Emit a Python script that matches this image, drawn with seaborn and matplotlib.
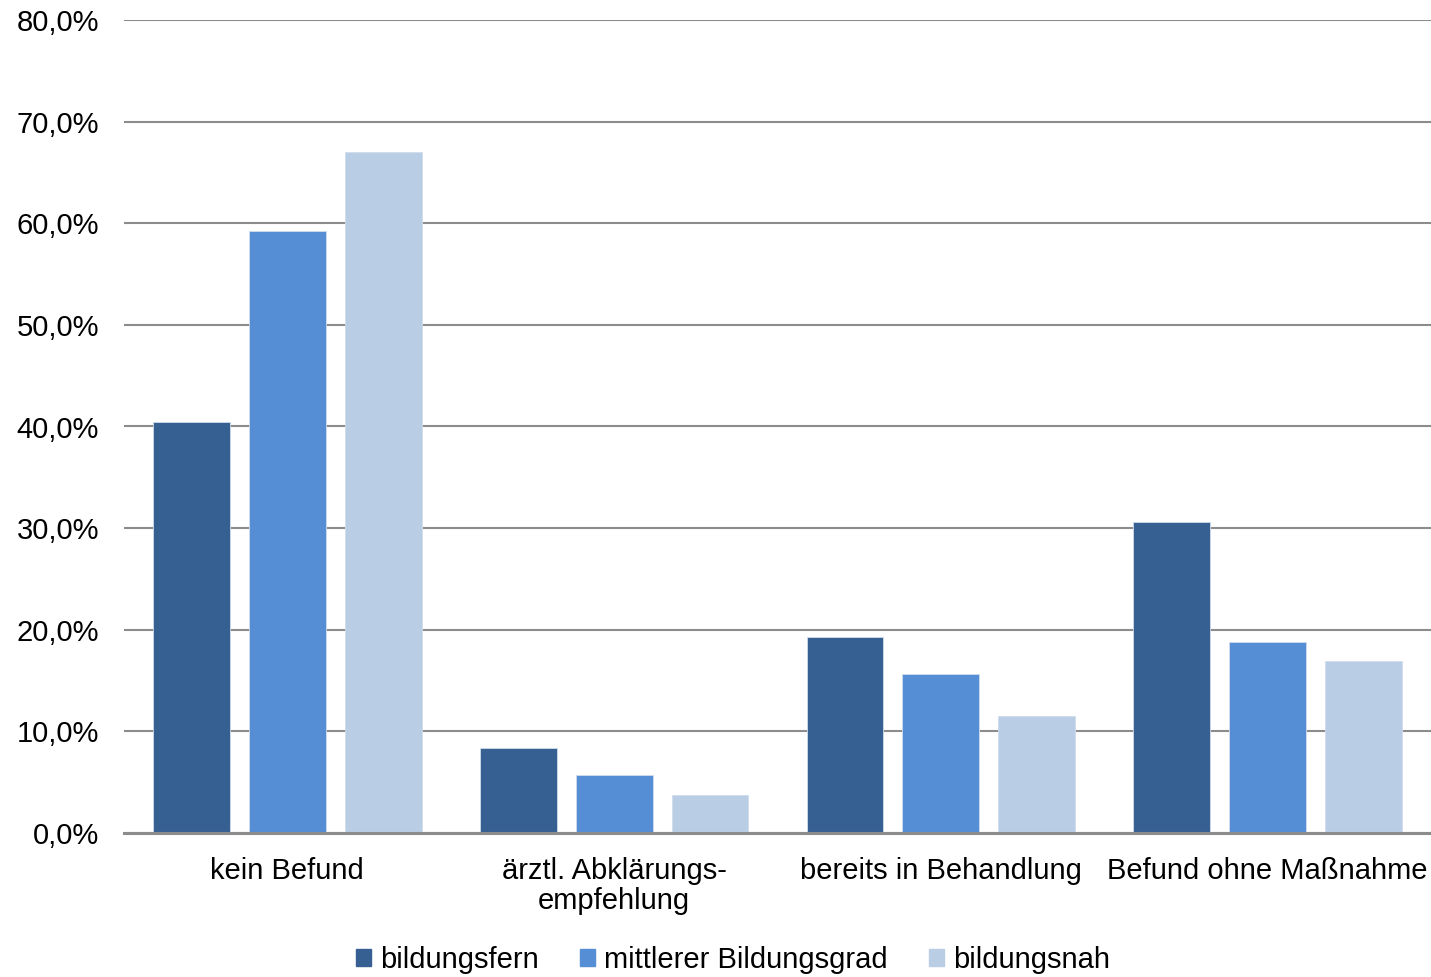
import matplotlib
matplotlib.use("Agg")
import matplotlib.pyplot as plt
import matplotlib.patches as mpatches
from matplotlib.ticker import FuncFormatter
import seaborn as sns
import pandas as pd

categories = ["kein Befund", "ärztl. Abklärungs-\nempfehlung", "bereits in Behandlung", "Befund ohne Maßnahme"]
groups = ["bildungsfern", "mittlerer Bildungsgrad", "bildungsnah"]
bildungsfern = [40.4, 8.4, 19.3, 30.6]
mittlerer = [59.2, 5.7, 15.6, 18.8]
bildungsnah = [67.0, 3.7, 11.5, 16.9]
colors = ["#376092", "#558ED5", "#B9CDE5"]

rows = []
for g, vals in zip(groups, [bildungsfern, mittlerer, bildungsnah]):
    for c, v in zip(categories, vals):
        rows.append({"Kategorie": c, "Gruppe": g, "Anteil": v})
df = pd.DataFrame(rows)

sns.set_theme(style="white")
plt.rcParams["font.family"] = ["Liberation Sans", "DejaVu Sans"]
plt.rcParams["text.color"] = "black"

W, H = 1431, 977
FS = 21
fig = plt.figure(figsize=(W / 100, H / 100), dpi=100)
ax = fig.add_axes([124 / W, (977 - 833) / H, (1431 - 124) / W, (833 - 20) / H])

sns.barplot(data=df, x="Kategorie", y="Anteil", hue="Gruppe", order=categories,
            hue_order=groups, palette=colors, width=0.881, gap=0.2,
            saturation=1, ax=ax, legend=False, errorbar=None, linewidth=0.6,
            edgecolor="#d0dcec")

ax.set_xlim(-0.5, 3.5)
ax.set_ylim(0, 80)
ax.set_yticks(range(0, 81, 10))
ax.yaxis.set_major_formatter(FuncFormatter(lambda v, p: f"{v:.1f}%".replace(".", ",")))
ax.yaxis.grid(True, color="#8C8C8C", linewidth=1.5)
ax.set_axisbelow(True)
for s in ["left", "right", "top"]:
    ax.spines[s].set_visible(False)
ax.spines["bottom"].set_color("#8C8C8C")
ax.spines["bottom"].set_linewidth(2.2)
ax.tick_params(axis="both", length=0, labelsize=FS, colors="black")
ax.tick_params(axis="y", pad=18)
ax.tick_params(axis="x", pad=17)
ax.set_xlabel("")
ax.set_ylabel("")
for lbl in ax.get_xticklabels():
    lbl.set_linespacing(1.12)

handles = [mpatches.Patch(color=c, label=g) for c, g in zip(colors, groups)]
fig.legend(handles=handles, loc="center", bbox_to_anchor=(733 / W, (977 - 960) / H),
           ncol=3, frameon=False, fontsize=FS, handlelength=0.52, handleheight=0.52,
           handletextpad=0.3, columnspacing=1.42, borderaxespad=0, labelcolor="black")

fig.savefig("out.png", dpi=100)
